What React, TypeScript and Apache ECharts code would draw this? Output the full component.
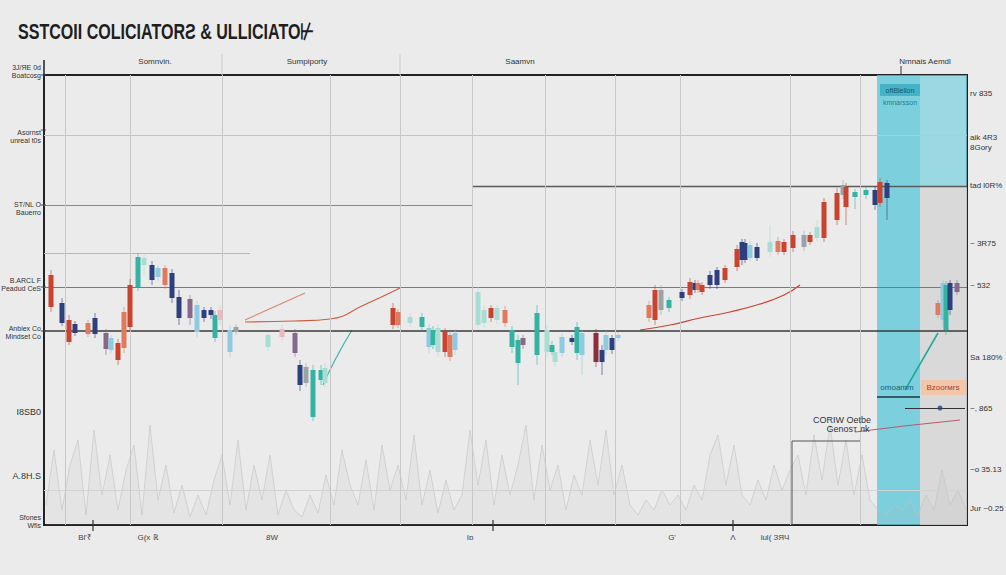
import React, { useEffect, useRef } from "react";
import * as echarts from "echarts";

// ---------- data ----------
const titleText = "SSTCOII COLICIATORƧ & ULLICIATO⊬";

// candles: day (x offset), open (lower body), close (upper body), low, high, tone
const candleDay = [7, 18, 25, 31, 44, 51, 62, 67, 74, 80, 86, 94, 100, 108, 114, 121, 128, 135, 146, 153, 160, 167, 171, 176, 186, 192, 224, 238, 251, 256, 262, 269, 277, 281,
  349, 354, 366, 378, 385, 389, 394, 401, 406, 411, 434, 440, 447, 453, 461, 468, 474, 479, 493, 503, 508, 511, 518, 528, 533, 538, 552, 558, 562, 568, 574,
  605, 611, 617, 625, 638, 646, 651, 654, 658, 666, 673, 681, 693, 698, 701, 706, 713, 726, 734, 740, 749, 760, 766, 773, 780, 793, 799, 802, 811, 822, 831, 836, 843,
  894, 899, 902, 906, 913];
const candleOpen = [218, 202, 183, 192, 191, 191, 176, 175, 165, 177, 198, 238, 260, 245, 248, 240, 227, 207, 207, 193, 207, 210, 187, 205, 173, 193, 178, 188, 172, 140, 142, 108, 145, 142,
  200, 200, 202, 198, 178, 180, 173, 173, 168, 175, 200, 202, 207, 205, 202, 178, 162, 180, 170, 173, 173, 163, 172, 183, 172, 170, 163, 163, 175, 175, 187,
  207, 205, 215, 217, 227, 230, 235, 235, 233, 240, 240, 245, 258, 265, 265, 267, 267, 273, 273, 273, 277, 278, 283, 287, 287, 305, 330, 318, 328, 330, 320, 322, 327,
  210, 205, 195, 215, 233];
const candleClose = [250, 222, 205, 201, 202, 207, 192, 187, 182, 213, 240, 268, 267, 260, 257, 257, 252, 228, 226, 220, 215, 215, 210, 215, 195, 198, 190, 196, 192, 160, 158, 155, 155, 157,
  217, 213, 208, 208, 197, 195, 197, 193, 190, 192, 233, 215, 217, 217, 215, 195, 185, 187, 212, 195, 180, 173, 188, 187, 198, 192, 192, 175, 190, 187, 190,
  220, 235, 235, 225, 233, 243, 242, 242, 240, 250, 255, 257, 276, 283, 282, 280, 278, 283, 284, 283, 290, 290, 290, 298, 323, 332, 340, 338, 333, 335, 335, 343, 342,
  222, 242, 240, 242, 242];
const candleLow = [213, 199, 180, 189, 188, 187, 170, 172, 160, 172, 194, 234, 250, 240, 244, 236, 222, 200, 200, 188, 203, 206, 183, 200, 168, 190, 174, 185, 168, 134, 138, 104, 140, 138,
  196, 197, 198, 194, 172, 176, 168, 168, 164, 170, 195, 198, 203, 201, 198, 172, 140, 176, 160, 168, 170, 158, 168, 180, 165, 150, 158, 150, 170, 171, 184,
  203, 200, 210, 213, 224, 226, 232, 232, 230, 236, 236, 242, 254, 260, 262, 264, 264, 268, 270, 270, 273, 274, 280, 283, 283, 300, 326, 300, 316, 326, 315, 318, 305,
  207, 198, 190, 210, 230];
const candleHigh = [255, 227, 210, 204, 205, 212, 196, 190, 186, 218, 246, 272, 272, 264, 260, 260, 256, 235, 230, 224, 218, 218, 214, 219, 200, 201, 193, 200, 196, 165, 162, 160, 160, 162,
  222, 216, 212, 212, 201, 199, 201, 197, 194, 196, 238, 219, 220, 220, 219, 199, 190, 190, 220, 200, 184, 176, 192, 190, 203, 196, 196, 180, 194, 190, 193,
  224, 240, 240, 228, 236, 247, 245, 245, 243, 254, 258, 260, 280, 286, 286, 284, 282, 300, 288, 286, 294, 294, 293, 305, 327, 337, 345, 342, 336, 338, 338, 347, 345,
  225, 245, 244, 245, 245];
const candleTone = [0, 1, 0, 1, 4, 1, 5, 3, 0, 4, 0, 2, 6, 1, 3, 4, 1, 1, 5, 3, 1, 1, 2, 8, 3, 7, 6, 8, 5, 1, 7, 2, 2, 6,
  0, 4, 6, 2, 3, 2, 6, 0, 4, 3, 6, 6, 0, 6, 4, 2, 2, 5, 2, 6, 2, 6, 3, 1, 2, 3, 9, 1, 3, 1, 3,
  4, 0, 7, 2, 1, 0, 1, 4, 0, 1, 1, 0, 0, 1, 1, 3, 1, 6, 4, 0, 0, 7, 0, 6, 0, 0, 7, 0, 2, 2, 1, 0, 1,
  4, 3, 2, 1, 5];

// volume (every 8 units along the x range)
const volumeValues = [20, 75, 15, 60, 85, 10, 95, 30, 70, 15,
  55, 80, 10, 100, 25, 60, 12, 40, 8, 30,
  10, 45, 70, 20, 85, 15, 60, 25, 70, 10,
  35, 15, 8, 30, 12, 50, 20, 75, 40, 20,
  65, 15, 80, 35, 60, 25, 90, 20, 55, 12,
  45, 15, 30, 95, 40, 85, 20, 70, 30, 60,
  100, 25, 80, 35, 60, 15, 50, 30, 85, 40,
  95, 30, 60, 20, 10, 25, 15, 35, 20, 30,
  15, 40, 25, 70, 90, 40, 80, 30, 20, 45,
  25, 60, 35, 55, 70, 30, 90, 45, 100, 40,
  85, 30, 70, 25, 15, 10, 20, 15, 25, 10,
  30, 15, 55, 20, 35, 15];

// trend lines [day, value]
const trendSalmon = [[201, 205], [261, 232]];
const trendOrange = [[201, 203], [250, 204], [286, 206], [320, 220], [356, 237]];
const trendRed = [[596, 195], [626, 200], [656, 207], [686, 213], [716, 221], [740, 230], [756, 240]];
const trendTeal = [[279, 140], [291, 165], [308, 195]];
const trendTealRight = [[861, 135], [894, 192]];
const trendPink = [[811, 93], [860, 99], [916, 105]];

// reference levels
const levelFull = [390, 238, 194, 35];
const levelLeftUpper = 320;
const levelLeftLower = 272;
const levelRight = 339;
const verticalDays = [21, 86, 178, 286, 356, 428, 501, 571, 636, 746, 816];

// text
const leftLabels = [["3J/ЯE 0d", "Boatcosg"], ["Asornst", "unreal t0s"], ["ST/NL O", "Bauerro"], ["B.ARCL F", "Peadud CeS"], ["Anbiex Co", "Mindset Co"], ["I8SB0"], ["A.8H.S"], ["Sfones", "Wfis"]];
const leftLabelY = [67, 132, 204, 280, 328, 412, 476, 517];
const rightLabels = [["rv 835"], ["aik 4R3", "8Gory"], ["tad l0R%"], ["~ 3R75"], ["~ 532"], ["Sa 180%"], ["~, 865"], ["~o 35.13"], ["Jur ~0.25"]];
const rightLabelY = [93, 137, 185, 243, 285, 357, 408, 469, 508];
const topLabels = ["Somnvin.", "Sumpiporty", "Saamvn", "Nmnais Aemdl"];
const topLabelX = [155, 307, 520, 925];
const bottomLabels = ["Bl'₹", "G(x ℝ", "8W", "Iɒ", "G'", "Ʌ", "lul( ЗЯЧ"];
const bottomLabelX = [85, 148, 272, 470, 672, 733, 775];

const palette = ["#c9432f", "#2d3f7c", "#34b3a2", "#8fcbe0", "#e07a5f", "#86688c", "#a9ddd3", "#9aa3a8", "#e9b9bb", "#8b2d3a"];

export default function App() {
  const ref = useRef<HTMLDivElement>(null);
  useEffect(() => {
    if (!ref.current) return;
    const chart = echarts.init(ref.current, undefined, { renderer: "svg" });
    const candleData = candleDay.map((d, i) => [d, candleOpen[i], candleClose[i], candleLow[i], candleHigh[i], candleTone[i]]);
    const volData = volumeValues.map((v, i) => [2 + i * 8, v]);
    const small = { fontSize: 8, fill: "#333", fontFamily: "Liberation Sans, Arial, sans-serif" };

    const graphics: any[] = [];
    graphics.push({ type: "text", x: 18, y: 21, scaleX: 0.73, style: { text: titleText, fontSize: 22, fontWeight: "bold", fill: "#1e1e1e", fontFamily: "Liberation Sans, Arial, sans-serif" } });
    // left axis extension and ticks
    graphics.push({ type: "line", shape: { x1: 44, y1: 60, x2: 44, y2: 76 }, style: { stroke: "#222", lineWidth: 1.5 } });
    [75, 130, 205, 287, 331].forEach((y) => graphics.push({ type: "line", shape: { x1: 41, y1: y, x2: 46, y2: y }, style: { stroke: "#444", lineWidth: 1 } }));
    leftLabels.forEach((lines, i) => {
      lines.forEach((t, j) => graphics.push({ type: "text", x: 41, y: leftLabelY[i] + j * 8.5, style: { ...small, text: t, align: "right", verticalAlign: "middle", fontSize: lines.length === 1 ? 9 : 7 } }));
    });
    rightLabels.forEach((lines, i) => {
      lines.forEach((t, j) => graphics.push({ type: "text", x: 970, y: rightLabelY[i] + j * 10, style: { ...small, text: t, align: "left", verticalAlign: "middle" } }));
    });
    topLabels.forEach((t, i) => graphics.push({ type: "text", x: topLabelX[i], y: 61, style: { ...small, text: t, align: "center", verticalAlign: "middle" } }));
    graphics.push({ type: "line", shape: { x1: 901, y1: 66, x2: 901, y2: 75 }, style: { stroke: "#333", lineWidth: 1 } });
    graphics.push({ type: "line", shape: { x1: 222, y1: 54, x2: 222, y2: 75 }, style: { stroke: "#ccc", lineWidth: 1 } });
    graphics.push({ type: "line", shape: { x1: 400, y1: 54, x2: 400, y2: 75 }, style: { stroke: "#ccc", lineWidth: 1 } });
    bottomLabels.forEach((t, i) => graphics.push({ type: "text", x: bottomLabelX[i], y: 537, style: { ...small, text: t, align: "center", verticalAlign: "middle", fill: "#444" } }));
    [93, 493, 733].forEach((x) => graphics.push({ type: "line", shape: { x1: x, y1: 520, x2: x, y2: 531 }, style: { stroke: "#333", lineWidth: 1.2 } }));
    // boxes in the band
    graphics.push({ type: "rect", shape: { x: 880, y: 84, width: 40, height: 12 }, style: { fill: "#46b2c6" } });
    graphics.push({ type: "text", x: 900, y: 90, style: { ...small, text: "oftBlellon", fill: "#0f5a6e", align: "center", verticalAlign: "middle", fontSize: 7 } });
    graphics.push({ type: "text", x: 900, y: 102, style: { ...small, text: "kmnarsson", fill: "#1a7f93", align: "center", verticalAlign: "middle", fontSize: 7 } });
    graphics.push({ type: "text", x: 897, y: 387, style: { ...small, text: "omoamm", fill: "#145f78", align: "center", verticalAlign: "middle" } });
    graphics.push({ type: "line", shape: { x1: 877, y1: 397, x2: 920, y2: 397 }, style: { stroke: "#1b3a44", lineWidth: 1.5 } });
    graphics.push({ type: "rect", shape: { x: 921, y: 380, width: 45, height: 15 }, style: { fill: "#f3c6aa" } });
    graphics.push({ type: "text", x: 943, y: 387, style: { ...small, text: "Bzoorмrs", fill: "#a8402a", align: "center", verticalAlign: "middle" } });
    graphics.push({ type: "text", x: 842, y: 420, style: { ...small, text: "CORIW Oetbe", align: "center", verticalAlign: "middle", fontSize: 9 } });
    graphics.push({ type: "text", x: 848, y: 429, style: { ...small, text: "Genosт лk", align: "center", verticalAlign: "middle", fontSize: 9 } });
    graphics.push({ type: "polyline", shape: { points: [[792, 525], [792, 441], [860, 441]] }, style: { stroke: "#555", lineWidth: 1, fill: "none" } });
    graphics.forEach((g) => { g.z = 100; });

    chart.setOption({
      animation: false,
      backgroundColor: "#ebebeb",
      grid: { left: 44, right: 39, top: 75, bottom: 50, show: true, borderColor: "#222", borderWidth: 2, backgroundColor: "transparent" },
      xAxis: { type: "value", min: 0, max: 923, show: false },
      yAxis: { type: "value", min: 0, max: 450, show: false },
      graphic: graphics,
      series: [
        {
          type: "line",
          data: volData,
          symbol: "none",
          z: 1,
          lineStyle: { color: "#c2c2c2", width: 0.6 },
          areaStyle: { color: "rgba(175,175,175,0.16)" },
          markArea: {
            silent: true,
            data: [
              [{ xAxis: 833, yAxis: 0, itemStyle: { color: "rgba(92,200,218,0.78)" } }, { xAxis: 876, yAxis: 450 }],
              [{ xAxis: 876, yAxis: 339, itemStyle: { color: "rgba(120,210,224,0.7)" } }, { xAxis: 923, yAxis: 450 }],
              [{ xAxis: 876, yAxis: 0, itemStyle: { color: "rgba(215,215,215,0.9)" } }, { xAxis: 923, yAxis: 339 }],
            ],
          },
          markLine: {
            silent: true,
            symbol: "none",
            label: { show: false },
            data: [
              ...levelFull.map((v, i) => [{ coord: [0, v], lineStyle: { color: ["#c4c4c4", "#7a7a7a", "#3a3a3a", "#d2d2d2"][i], width: [1, 1, 1.6, 1][i], type: "solid" } }, { coord: [923, v] }]),
              [{ coord: [0, levelLeftUpper], lineStyle: { color: "#8a8a8a", width: 1, type: "solid" } }, { coord: [428, levelLeftUpper] }],
              [{ coord: [0, levelLeftLower], lineStyle: { color: "#b5b5b5", width: 1, type: "solid" } }, { coord: [206, levelLeftLower] }],
              [{ coord: [428, levelRight], lineStyle: { color: "#5a5a5a", width: 1.3, type: "solid" } }, { coord: [923, levelRight] }],
              ...verticalDays.map((d) => [{ coord: [d, 0], lineStyle: { color: "#c8c8c8", width: 1, type: "solid" } }, { coord: [d, 450] }]),
              [{ coord: [861, 117], lineStyle: { color: "#333", width: 1.2, type: "solid" } }, { coord: [921, 117] }],
            ],
          },
        },
        { type: "line", data: trendSalmon, symbol: "none", z: 3, lineStyle: { color: "#d98a72", width: 1.2 } },
        { type: "line", data: trendOrange, symbol: "none", smooth: true, z: 3, lineStyle: { color: "#c9603f", width: 1.2 } },
        { type: "line", data: trendRed, symbol: "none", smooth: true, z: 3, lineStyle: { color: "#c64532", width: 1.2 } },
        { type: "line", data: trendTeal, symbol: "none", smooth: true, z: 3, lineStyle: { color: "#3fb7a8", width: 1.2 } },
        { type: "line", data: trendTealRight, symbol: "none", z: 3, lineStyle: { color: "#1fa89a", width: 1.5 } },
        { type: "line", data: trendPink, symbol: "none", z: 3, lineStyle: { color: "#b95a6c", width: 1 } },
        {
          type: "custom",
          z: 5,
          data: candleData,
          encode: { x: 0, y: [1, 2, 3, 4] },
          renderItem: (params: any, api: any) => {
            const day = api.value(0);
            const o = api.value(1), c = api.value(2), l = api.value(3), h = api.value(4);
            const color = palette[api.value(5)];
            const pO = api.coord([day, o]);
            const pC = api.coord([day, c]);
            const pL = api.coord([day, l]);
            const pH = api.coord([day, h]);
            const w = 5;
            const top = Math.min(pO[1], pC[1]);
            const hgt = Math.max(1.5, Math.abs(pO[1] - pC[1]));
            return {
              type: "group",
              children: [
                { type: "line", shape: { x1: pH[0], y1: pH[1], x2: pL[0], y2: pL[1] }, style: { stroke: color, lineWidth: 1, opacity: 0.6 } },
                { type: "rect", shape: { x: pO[0] - w / 2, y: top, width: w, height: hgt }, style: { fill: color } },
              ],
            };
          },
        },
        {
          type: "scatter",
          z: 6,
          data: [[896, 117]],
          symbolSize: 5,
          itemStyle: { color: "#2d3f7c" },
        },
      ],
    });
    return () => chart.dispose();
  }, []);
  return <div ref={ref} style={{ position: "fixed", left: 0, top: 0, width: 1006, height: 575 }} />;
}
